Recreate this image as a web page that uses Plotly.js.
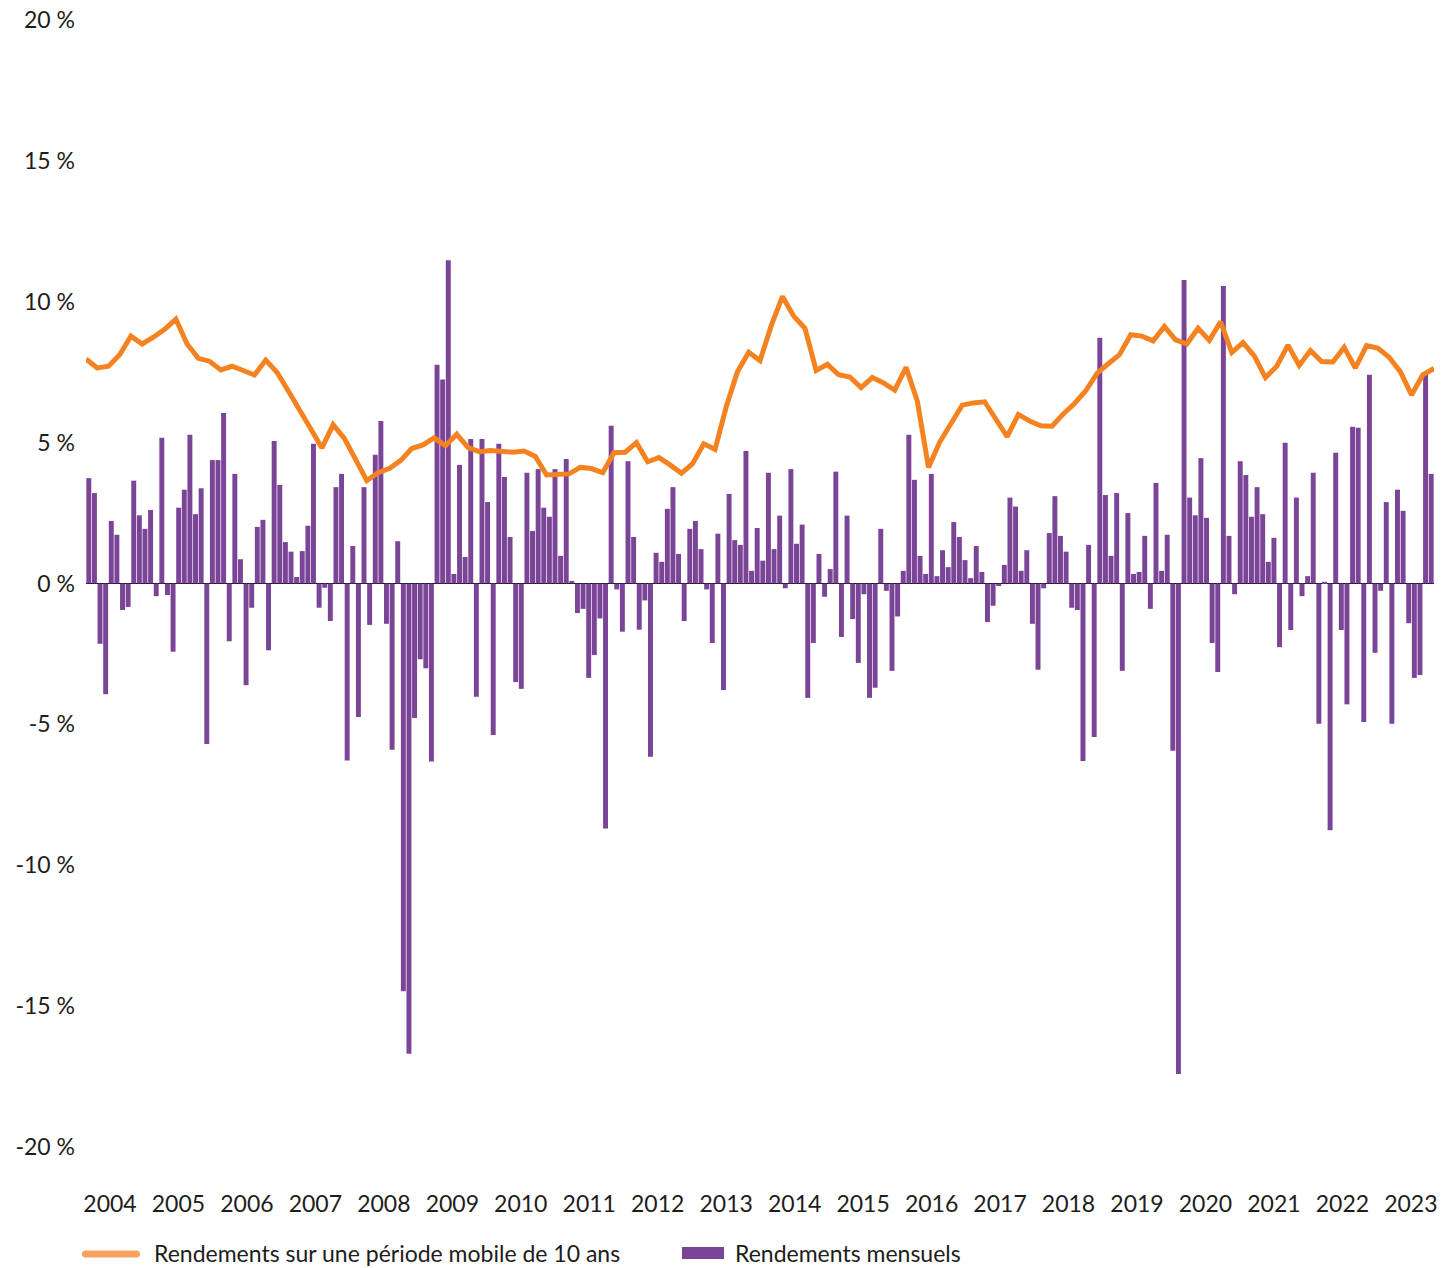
<!DOCTYPE html>
<html><head><meta charset="utf-8">
<script src="https://cdn.plot.ly/plotly-3.0.1.min.js"></script>
<style>html,body{margin:0;padding:0;background:#fff}#chart{width:1455px;height:1268px}</style>
</head><body><div id="chart"></div>
<script>
// Monthly returns (%), one per month, left to right
const monthlyReturns = [
 3.74, 3.21, -2.14, -3.93, 2.22, 1.73, -0.94, -0.83, 3.65, 2.42, 1.94, 2.61,
 -0.45, 5.17, -0.41, -2.42, 2.69, 3.33, 5.28, 2.46, 3.38, -5.70, 4.38, 4.38,
 6.05, -2.05, 3.89, 0.86, -3.61, -0.86, 2.01, 2.26, -2.37, 5.06, 3.50, 1.47,
 1.13, 0.23, 1.15, 2.05, 4.96, -0.86, -0.15, -1.33, 3.42, 3.89, -6.28, 1.33,
 -4.74, 3.42, -1.47, 4.57, 5.77, -1.43, -5.90, 1.50, -14.47, -16.69, -4.77, -2.69,
 -3.01, -6.32, 7.76, 7.24, 11.47, 0.34, 4.21, 0.94, 5.13, -4.02, 5.13, 2.89,
 -5.38, 4.96, 3.78, 1.65, -3.50, -3.74, 3.93, 1.86, 4.06, 2.69, 2.37, 4.06,
 0.98, 4.42, 0.09, -1.05, -0.90, -3.35, -2.54, -1.24, -8.70, 5.60, -0.21, -1.71,
 4.34, 1.65, -1.64, -0.60, -6.15, 1.09, 0.77, 2.65, 3.42, 1.05, -1.33, 1.94,
 2.22, 1.22, -0.21, -2.11, 1.77, -3.78, 3.18, 1.54, 1.37, 4.70, 0.45, 1.97,
 0.81, 3.93, 1.22, 2.41, -0.17, 4.06, 1.41, 2.09, -4.06, -2.11, 1.05, -0.47,
 0.51, 3.97, -1.90, 2.41, -1.26, -2.82, -0.38, -4.06, -3.70, 1.94, -0.26, -3.10,
 -1.17, 0.45, 5.28, 3.68, 0.98, 0.34, 3.89, 0.26, 1.18, 0.58, 2.18, 1.65,
 0.83, 0.19, 1.33, 0.41, -1.37, -0.79, -0.09, 0.66, 3.05, 2.73, 0.45, 1.18,
 -1.43, -3.06, -0.17, 1.79, 3.10, 1.69, 1.13, -0.86, -0.94, -6.30, 1.37, -5.45,
 8.72, 3.14, 0.98, 3.21, -3.10, 2.50, 0.34, 0.41, 1.69, -0.90, 3.57, 0.45,
 1.73, -5.94, -17.41, 10.77, 3.05, 2.42, 4.45, 2.33, -2.11, -3.14, 10.56, 1.69,
 -0.38, 4.34, 3.85, 2.37, 3.42, 2.46, 0.77, 1.62, -2.26, 5.00, -1.65, 3.05,
 -0.45, 0.26, 3.93, -4.98, 0.06, -8.76, 4.64, -1.65, -4.29, 5.56, 5.53, -4.92,
 7.41, -2.46, -0.26, 2.89, -4.98, 3.33, 2.58, -1.41, -3.35, -3.25, 7.41, 3.89
];

// 10-year rolling returns (%), sampled every two months
const rolling10y = [
 7.97, 7.65, 7.71, 8.12, 8.78, 8.50, 8.74, 9.02, 9.38, 8.50, 7.99, 7.89,
 7.58, 7.71, 7.56, 7.40, 7.93, 7.50, 6.84, 6.20, 5.49, 4.81, 5.64, 5.15,
 4.40, 3.65, 3.93, 4.08, 4.36, 4.79, 4.92, 5.17, 4.89, 5.30, 4.83, 4.68,
 4.72, 4.68, 4.66, 4.70, 4.51, 3.85, 3.87, 3.89, 4.12, 4.08, 3.93, 4.64,
 4.66, 5.00, 4.32, 4.47, 4.21, 3.91, 4.25, 4.96, 4.76, 6.28, 7.52, 8.21,
 7.91, 9.15, 10.19, 9.49, 9.06, 7.56, 7.78, 7.41, 7.33, 6.95, 7.31, 7.12,
 6.86, 7.67, 6.48, 4.12, 5.02, 5.68, 6.33, 6.41, 6.45, 5.83, 5.21, 6.00,
 5.77, 5.60, 5.58, 6.02, 6.39, 6.84, 7.46, 7.80, 8.12, 8.83, 8.78, 8.61,
 9.12, 8.65, 8.50, 9.06, 8.63, 9.29, 8.20, 8.55, 8.08, 7.31, 7.71, 8.46,
 7.74, 8.27, 7.88, 7.86, 8.38, 7.65, 8.44, 8.36, 8.03, 7.52, 6.69, 7.41, 7.63
];

const yearLabels = ['2004','2005','2006','2007','2008','2009','2010','2011','2012','2013',
                    '2014','2015','2016','2017','2018','2019','2020','2021','2022','2023'];
const yTickValues = [-20, -15, -10, -5, 0, 5, 10, 15, 20];
const yTickLabels = ['-20 %', '-15 %', '-10 %', '-5 %', '0 %', '5 %', '10 %', '15 %', '20 %'];

const seriesNames = ['Rendements sur une période mobile de 10 ans', 'Rendements mensuels'];
const purple = '#7B4597';
const orange = '#F58220';
const orangeLegend = '#F9A15E';
const FONT = 'Lato, "Noto Sans", sans-serif';
const TEXT = '#1d1d1b';
const FS = 23;

const W = 1455, H = 1268;
const M = {l: 86, r: 21, t: 20, b: 121};
const plotW = W - M.l - M.r, plotH = H - M.t - M.b;
// pixel -> paper helpers for the hand-drawn legend
const px = v => (v - M.l) / plotW;
const py = v => (H - M.b - v) / plotH;

const barX = monthlyReturns.map((_, i) => i);
const lineX = rolling10y.map((_, i) => i);
const yearTickPos = yearLabels.map((_, k) => 3.77 + 12.19 * k);

const traces = [
  {
    type: 'bar', x: barX, y: monthlyReturns, name: seriesNames[1],
    marker: {color: purple, line: {width: 0}},
    xaxis: 'x', yaxis: 'y', showlegend: false,
    hovertemplate: '%{y:.2f} %<extra></extra>'
  },
  {
    type: 'scatter', mode: 'lines', x: lineX, y: rolling10y, name: seriesNames[0],
    line: {color: orange, width: 5, shape: 'linear'},
    xaxis: 'x2', yaxis: 'y', showlegend: false,
    hovertemplate: '%{y:.2f} %<extra></extra>'
  }
];

// legend (drawn as shapes + text so the symbols match the original)
function roundBar(x0, x1, yc, h) {
  const r = h / 2, yt = yc - r, yb = yc + r;
  return `M${px(x0 + r)},${py(yt)} L${px(x1 - r)},${py(yt)} ` +
         `Q${px(x1)},${py(yt)} ${px(x1)},${py(yc)} Q${px(x1)},${py(yb)} ${px(x1 - r)},${py(yb)} ` +
         `L${px(x0 + r)},${py(yb)} Q${px(x0)},${py(yb)} ${px(x0)},${py(yc)} ` +
         `Q${px(x0)},${py(yt)} ${px(x0 + r)},${py(yt)} Z`;
}
const legendY = 1253;
const shapes = [
  {type: 'path', xref: 'paper', yref: 'paper', path: roundBar(82, 140, legendY + 1, 7),
   fillcolor: orangeLegend, line: {width: 0}},
  {type: 'rect', xref: 'paper', yref: 'paper', x0: px(682), x1: px(724), y0: py(legendY - 6), y1: py(legendY + 6),
   fillcolor: purple, line: {width: 0}}
];
const annotations = [
  {xref: 'paper', yref: 'paper', x: px(152), y: py(legendY), xanchor: 'left', yanchor: 'middle',
   text: seriesNames[0], showarrow: false, font: {family: FONT, size: FS, color: TEXT}},
  {xref: 'paper', yref: 'paper', x: px(733), y: py(legendY), xanchor: 'left', yanchor: 'middle',
   text: seriesNames[1], showarrow: false, font: {family: FONT, size: FS, color: TEXT}}
];

const layout = {
  width: W, height: H,
  margin: {l: M.l, r: M.r, t: M.t, b: M.b, pad: 0},
  paper_bgcolor: '#fff', plot_bgcolor: '#fff',
  font: {family: FONT, size: FS, color: TEXT},
  showlegend: false,
  bargap: 0.12,
  xaxis: {
    range: [-0.5, monthlyReturns.length - 0.5],
    tickmode: 'array', tickvals: yearTickPos, ticktext: yearLabels,
    showgrid: false, zeroline: false, showline: false, ticks: '',
    ticklabelstandoff: 41, automargin: false,
    tickfont: {family: FONT, size: FS, color: TEXT},
    fixedrange: true
  },
  xaxis2: {
    overlaying: 'x', range: [0, rolling10y.length - 1],
    showticklabels: false, showgrid: false, zeroline: false, ticks: '', fixedrange: true
  },
  yaxis: {
    range: [-20, 20],
    tickmode: 'array', tickvals: yTickValues, ticktext: yTickLabels,
    showgrid: false, showline: false, ticks: '',
    zeroline: true, zerolinecolor: '#000', zerolinewidth: 1,
    ticklabelstandoff: 10, automargin: false,
    tickfont: {family: FONT, size: FS, color: TEXT},
    fixedrange: true
  },
  shapes: shapes,
  annotations: annotations
};

Plotly.newPlot('chart', traces, layout, {displayModeBar: false, responsive: false});
</script>
</body></html>
